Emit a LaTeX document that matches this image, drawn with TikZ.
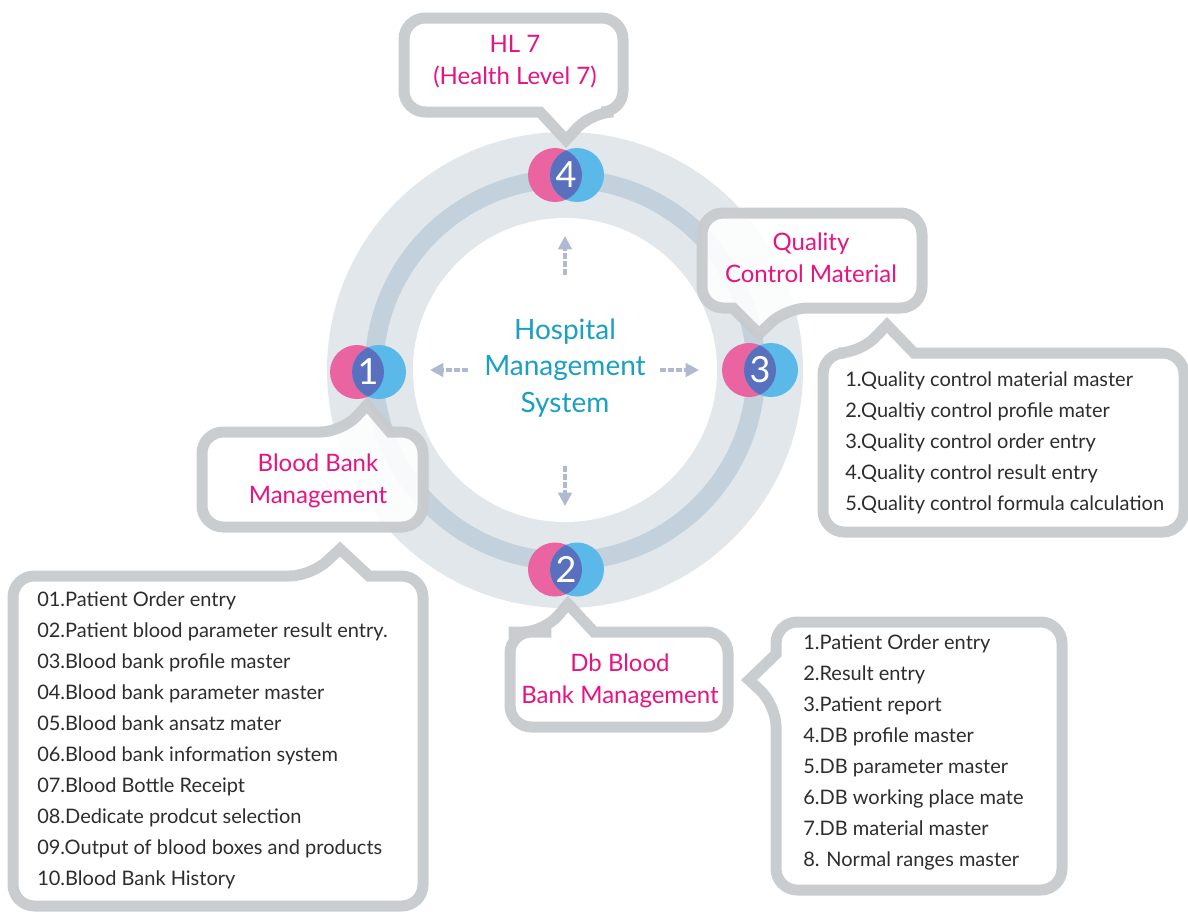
\documentclass[tikz,border=0pt]{standalone}
\usepackage{fontspec}
\setmainfont{Lato}
\usetikzlibrary{arrows.meta}
\definecolor{ringout}{RGB}{225,231,234}
\definecolor{ringmid}{RGB}{194,209,220}
\definecolor{bubline}{RGB}{200,203,205}
\definecolor{pinkc}{RGB}{233,100,160}
\definecolor{bluec}{RGB}{90,185,232}
\definecolor{overc}{RGB}{88,112,190}
\definecolor{pinktext}{RGB}{230,20,130}
\definecolor{tealtext}{RGB}{25,160,195}
\definecolor{listtext}{RGB}{45,45,45}
\definecolor{arrowc}{RGB}{175,185,208}
\tikzset{
  bubble/.style={draw=bubline,line width=8.25pt,fill=white,fill opacity=.88,draw opacity=.95,line join=miter,miter limit=10},
  title/.style={text=pinktext,align=center,inner sep=0pt,font=\fontsize{18}{24}\selectfont},
  listbox/.style={text=listtext,align=left,inner sep=0pt,anchor=north west,font=\fontsize{15}{23.25}\selectfont},
  flow/.style={arrowc,line width=3pt,dash pattern=on 4.5pt off 1.5pt,-{Triangle[length=10pt,width=10pt]}},
  pinkd/.style={circle,fill=pinkc,minimum size=40.5pt,inner sep=0pt},
  blued/.style={circle,fill=bluec,minimum size=40.5pt,inner sep=0pt},
}
\newcommand{\venn}[4]{%
  \node[pinkd] (p#1) at (#2-11,#3) {};
  \node[blued] (b#1) at (#2+11,#3) {};
  \begin{scope}
    \clip (#2-11,#3) circle[radius=27];
    \fill[overc] (#2+11,#3) circle[radius=27];
  \end{scope}
  \node[text=white,inner sep=0pt,font=\fontsize{27}{27}\selectfont] (n#1) at (#2,#3) {#4};
}
\begin{document}
\begin{tikzpicture}[x=0.75pt,y=-0.75pt]
\useasboundingbox (0,0) rectangle (1188,911);
\fill[white] (0,0) rectangle (1188,911);
\clip (0,0) rectangle (1188,911);
% rings
\fill[ringout] (565,370) circle[radius=238];
\draw[ringmid,line width=14pt] (565,370) circle[radius=191];
\fill[white] (565,370) circle[radius=152];
% centre
\node[text=tealtext,align=center,inner sep=0pt,font=\fontsize{21}{27.4}\selectfont] (hms) at (565,368) {Hospital\\Management\\System};
\coordinate (la) at (468,370); \coordinate (lb) at (430,370);
\coordinate (ra) at (660,370); \coordinate (rb) at (699,370);
\coordinate (ua) at (565,275); \coordinate (ub) at (565,236);
\coordinate (da) at (565,466); \coordinate (db) at (565,506);
\draw[flow] (la) -- (lb);
\draw[flow] (ra) -- (rb);
\draw[flow] (ua) -- (ub);
\draw[flow] (da) -- (db);
% venns
\venn{1}{368}{372}{1}
\venn{2}{566}{569.5}{2}
\venn{3}{760}{370}{3}
\venn{4}{566}{175}{4}
% callouts (line centres)
\path[bubble] (450,18) [rounded corners=16pt] -- (623,18) -- (623,112) -- (592,112) [sharp corners] -- (566,140) -- (540,112) [rounded corners=16pt] -- (404,112) -- (404,18) -- cycle;
\path[bubble] (812,213) [rounded corners=16pt] -- (922,213) -- (922,308) -- (786,308) [sharp corners] -- (759,334) -- (733,308) [rounded corners=16pt] -- (702,308) -- (702,213) -- cycle;
\path[bubble] (300,432) [rounded corners=16pt] -- (342,432) [sharp corners] -- (367,405) -- (390,432) [rounded corners=16pt] -- (423,432) -- (423,527) -- (202,527) -- (202,432) -- cycle;
\path[bubble] (530,632) [rounded corners=16pt] -- (544,632) [sharp corners] -- (568,604) -- (594,632) [rounded corners=16pt] -- (728,632) -- (728,727) -- (510,727) -- (510,632) -- cycle;
\path[bubble] (1000,353) [rounded corners=16pt] -- (1184,353) -- (1184,532) -- (823,532) -- (823,353) -- (860,353) [sharp corners] -- (887,325) -- (914,353) [rounded corners=16pt] -- cycle;
\path[bubble] (200,576) [rounded corners=16pt] -- (311,576) [sharp corners] -- (340,549) -- (369,576) [rounded corners=16pt] -- (423,576) -- (423,906) -- (13,906) -- (13,576) -- cycle;
\path[bubble] (900,622) [rounded corners=16pt] -- (1062,622) -- (1062,890) -- (776,890) -- (776,705) [sharp corners] -- (749,680) -- (776,654) [rounded corners=16pt] -- (776,622) -- cycle;
% titles
\node[title] (t4) at (515,62) {HL 7\\(Health Level 7)};
\node[title] (t3) at (811,258) {Quality\\Control Material};
\node[title] (t1) at (318,481) {Blood Bank\\Management};
\node[title] (t2) at (620,681) {Db Blood\\Bank Management};
% lists
\node[listbox] (l3) at (845,371) {1.Quality control material master\\2.Qualtiy control profile mater\\3.Quality control order entry\\4.Quality control result entry\\5.Quality control formula calculation};
\node[listbox] (l1) at (37,591) {01.Patient Order entry\\02.Patient blood parameter result entry.\\03.Blood bank profile master\\04.Blood bank parameter master\\05.Blood bank ansatz mater\\06.Blood bank information system\\07.Blood Bottle Receipt\\08.Dedicate prodcut selection\\09.Output of blood boxes and products\\10.Blood Bank History};
\node[listbox] (l2) at (803,634) {1.Patient Order entry\\2.Result entry\\3.Patient report\\4.DB profile master\\5.DB parameter master\\6.DB working place mate\\7.DB material master\\8. Normal ranges master};
\end{tikzpicture}
\end{document}
